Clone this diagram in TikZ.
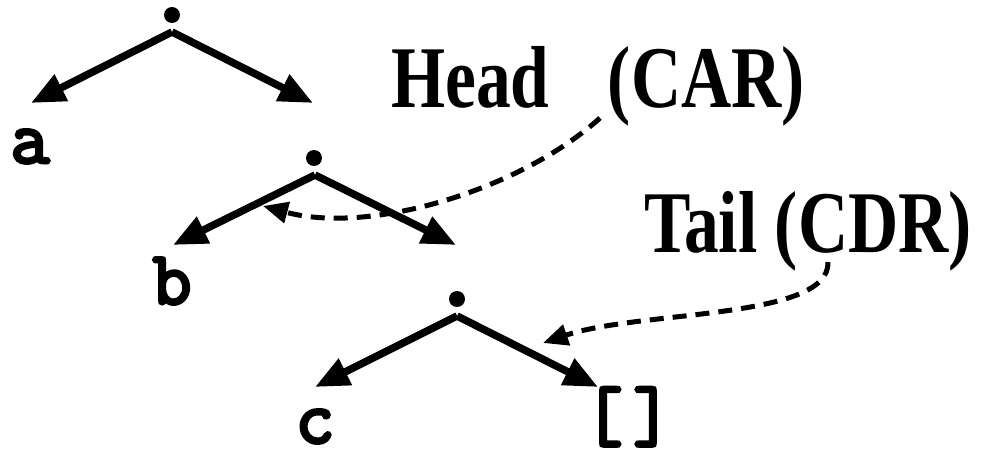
\documentclass[tikz,border=0pt]{standalone}
\usepackage{fontspec}
\setmainfont{Liberation Serif}
\newfontfamily\courfont[FakeBold=4]{Latin Modern Mono}
\usetikzlibrary{arrows.meta}
\tikzset{
  dotnode/.style={circle, fill=black, inner sep=0pt, minimum size=16pt},
  branch/.style={line width=7.5pt, -{Triangle[length=34pt,width=28pt]}},
  pointer/.style={line width=5pt, dash pattern=on 14pt off 9pt, -{Triangle[length=25pt,width=21pt]}},
  atom/.style={inner sep=0pt, anchor=base, font=\courfont\fontsize{76}{76}\selectfont},
  caption/.style={inner sep=0pt, anchor=base west, xscale=0.79, font=\bfseries\fontsize{88}{88}\selectfont}
}
\begin{document}
\begin{tikzpicture}[x=1pt, y=-1pt]
\useasboundingbox (0,0) rectangle (989,457);
% tree 1
\node[dotnode] (d1) at (172,15) {};
\coordinate (p1) at (172,32);
\coordinate (l1) at (31,103);
\coordinate (r1) at (313,103);
\draw[branch] (p1) -- (l1);
\draw[branch] (p1) -- (r1);
\node[atom] (a) at (30,163) {a};
% tree 2
\node[dotnode] (d2) at (314,158) {};
\coordinate (p2) at (315,175);
\coordinate (l2) at (173,245);
\coordinate (r2) at (456,245);
\draw[branch] (p2) -- (l2);
\draw[branch] (p2) -- (r2);
\node[atom] (b) at (172,304) {b};
% tree 3
\node[dotnode] (d3) at (457,299) {};
\coordinate (p3) at (457,316);
\coordinate (l3) at (315,387);
\coordinate (r3) at (598,387);
\draw[branch] (p3) -- (l3);
\draw[branch] (p3) -- (r3);
\node[atom] (c) at (315,443) {c};
\node[atom] (nil) at (628,440) {[\hspace{10pt}]};
% captions
\node[caption] (head) at (391,108) {Head\hspace{0.84em}(CAR)};
\node[caption] (tail) at (644,253) {Tail (CDR)};
% pointers
\coordinate (hs) at (600,118);
\coordinate (he) at (263,206);
\coordinate (ts) at (828,262);
\coordinate (te) at (543,343);
\draw[pointer] (hs) .. controls (520,190) and (370,235) .. (he);
\draw[pointer] (ts) .. controls (830,320) and (640,310) .. (te);
\end{tikzpicture}
\end{document}
